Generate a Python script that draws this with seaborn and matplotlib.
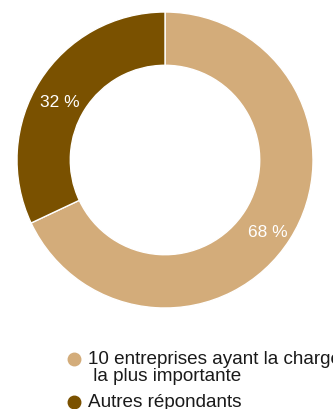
import matplotlib
matplotlib.use("Agg")
import matplotlib.pyplot as plt
import seaborn as sns
from matplotlib.lines import Line2D

categories = ["10 entreprises ayant la charge\n la plus importante", "Autres répondants"]
values = [68, 32]
colors = ["#D3AC7A", "#7A5100"]

sns.set_theme(style="white")
plt.rcParams['font.family'] = ['Liberation Sans', 'DejaVu Sans']

fig = plt.figure(figsize=(3.33, 4.10), dpi=100)
ax = fig.add_axes([17/333, (410-309)/410, 296/333, 296/410])

wedges, texts, autotexts = ax.pie(
    values, colors=colors, startangle=90, counterclock=False,
    autopct=lambda p: f"{p:.0f} %", pctdistance=0.82,
    wedgeprops=dict(width=0.36, edgecolor="white", linewidth=1),
    textprops=dict(color="white", fontsize=12.5))
label_nudge = [(0.0, -0.045), (-0.018, -0.045)]
for t, (dx, dy) in zip(autotexts, label_nudge):
    x, y = t.get_position()
    t.set_position((x + dx, y + dy))
ax.set_xlim(-1, 1)
ax.set_ylim(-1, 1)
ax.set_aspect("equal")
ax.axis("off")

# legend (manual, marker aligned with first line)
W, H = 333, 410
ytops = [351, 394]
for lab, col, yt in zip(categories, colors, ytops):
    fig.text(88/W, 1 - yt/H, lab, fontsize=13.6, color="#1a1a1a",
             va="top", ha="left", linespacing=1.03)
    fig.add_artist(Line2D([74/W], [1 - (yt + 9)/H], marker="o", markersize=9,
                          color=col, linestyle="none", transform=fig.transFigure))

fig.savefig("out.png", dpi=100)
